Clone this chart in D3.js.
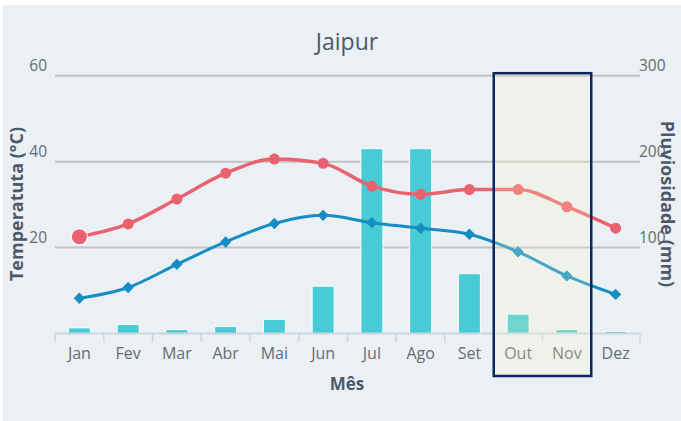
<!DOCTYPE html>
<html><head><meta charset="utf-8">
<script src="https://cdn.jsdelivr.net/npm/d3@7"></script>
<style>
html,body{margin:0;padding:0;background:#fff;}
svg{display:block;font-family:"Open Sans",sans-serif;}
</style></head><body>
<svg id="c" width="681" height="421"></svg>
<script>
const months = ["Jan","Fev","Mar","Abr","Mai","Jun","Jul","Ago","Set","Out","Nov","Dez"];
const tempMax = [22.5,25.5,31.3,37.3,40.6,39.6,34.3,32.4,33.5,33.5,29.5,24.5];
const tempMin = [8.2,10.7,16.1,21.3,25.6,27.5,25.8,24.5,23.1,19.0,13.4,9.1];
const rain = [6,10,4,7.5,16,54.5,214.5,214.5,69,22,4,2];
const tempTicks = [20,40,60];
const rainTicks = [100,200,300];
const highlightMonths = ["Out","Nov"];

const svg = d3.select("#c");
const L = 55, R = 640, T = 75.7, B = 333.5;

svg.append("rect").attr("x",3).attr("y",5).attr("width",678).attr("height",416).attr("fill","#ebf0f5");

const x = d3.scaleBand().domain(months).range([L,R]);
const yT = d3.scaleLinear().domain([0,60]).range([B,T]);
const yR = d3.scaleLinear().domain([0,300]).range([B,T]);

// grid
svg.append("g").selectAll("line").data(tempTicks).join("line")
  .attr("x1",L).attr("x2",R).attr("y1",d=>yT(d)).attr("y2",d=>yT(d))
  .attr("stroke","#c2c2c2").attr("stroke-width",2);

// left labels
svg.append("g").selectAll("text").data(tempTicks).join("text")
  .attr("x",47).attr("y",d=>yT(d)-5).attr("text-anchor","end")
  .attr("font-size",15.5).attr("fill","#666b72").text(d=>d);
// right labels
svg.append("g").selectAll("text").data(rainTicks).join("text")
  .attr("x",639).attr("y",d=>yR(d)-5).attr("text-anchor","start")
  .attr("font-size",15.5).attr("fill","#666b72").text(d=>d);

// bars
const bw = 22;
svg.append("g").selectAll("rect").data(rain).join("rect")
  .attr("x",(d,i)=>x(months[i])+x.bandwidth()/2-bw/2)
  .attr("y",d=>yR(d)-0.5).attr("width",bw).attr("height",d=>B-yR(d)+0.5)
  .attr("fill","#47cbd4").attr("stroke","#ffffff").attr("stroke-width",1);

// x axis
const ax = svg.append("g");
ax.append("line").attr("x1",L).attr("x2",R).attr("y1",B).attr("y2",B).attr("stroke","#ccd6e0").attr("stroke-width",2);
const tickPos = months.map(m=>x(m)).concat([R]);
ax.selectAll("line.t").data(tickPos).join("line").attr("class","t")
  .attr("x1",d=>d).attr("x2",d=>d).attr("y1",B).attr("y2",B+9)
  .attr("stroke","#ccd6e0").attr("stroke-width",1.5);
ax.selectAll("text").data(months).join("text")
  .attr("x",d=>x(d)+x.bandwidth()/2).attr("y",359).attr("text-anchor","middle")
  .attr("font-size",16).attr("fill","#666b72").text(d=>d);

// lines
const cx = i => x(months[i])+x.bandwidth()/2;
const lineT = d3.line().x((d,i)=>cx(i)).y(d=>yT(d)).curve(d3.curveMonotoneX);
svg.append("path").attr("d",lineT(tempMax)).attr("fill","none").attr("stroke","#e8636f").attr("stroke-width",3.5);
svg.append("path").attr("d",lineT(tempMin)).attr("fill","none").attr("stroke","#168ec4").attr("stroke-width",3);

svg.append("g").selectAll("circle").data(tempMax).join("circle")
  .attr("cx",(d,i)=>cx(i)).attr("cy",d=>yT(d)).attr("r",(d,i)=>i===0?8:5.5)
  .attr("fill","#e8636f").attr("stroke",(d,i)=>i===0?"#fff":"none").attr("stroke-width",1);
const diamond = d3.symbol().type(d3.symbolSquare).size(64);
svg.append("g").selectAll("path").data(tempMin).join("path")
  .attr("d",diamond).attr("transform",(d,i)=>`translate(${cx(i)},${yT(d)}) rotate(45)`)
  .attr("fill","#168ec4");

// highlight box
const hx0 = x(highlightMonths[0]), hx1 = x(highlightMonths[highlightMonths.length-1])+x.bandwidth();
svg.append("rect").attr("x",hx0).attr("y",T-2.5).attr("width",hx1-hx0).attr("height",376-(T-2.5))
  .attr("fill","rgb(255,250,200)").attr("fill-opacity",0.22)
  .attr("stroke","#0b2463").attr("stroke-width",2.5);

// titles
svg.append("text").attr("x",347).attr("y",50).attr("text-anchor","middle")
  .attr("font-size",23).attr("font-weight",500).attr("fill","#4d596b").text("Jaipur");
svg.append("text").attr("x",347).attr("y",390).attr("text-anchor","middle")
  .attr("font-size",17).attr("font-weight","bold").attr("fill","#4d596b").text("Mês");
svg.append("text").attr("transform","translate(23,204) rotate(-90)").attr("text-anchor","middle")
  .attr("font-size",18).attr("font-weight","bold").attr("fill","#4d596b").text("Temperatuta (°C)");
svg.append("text").attr("transform","translate(661,204) rotate(90)").attr("text-anchor","middle")
  .attr("font-size",18).attr("font-weight","bold").attr("fill","#4d596b").text("Pluviosidade (mm)");
</script>
</body></html>
